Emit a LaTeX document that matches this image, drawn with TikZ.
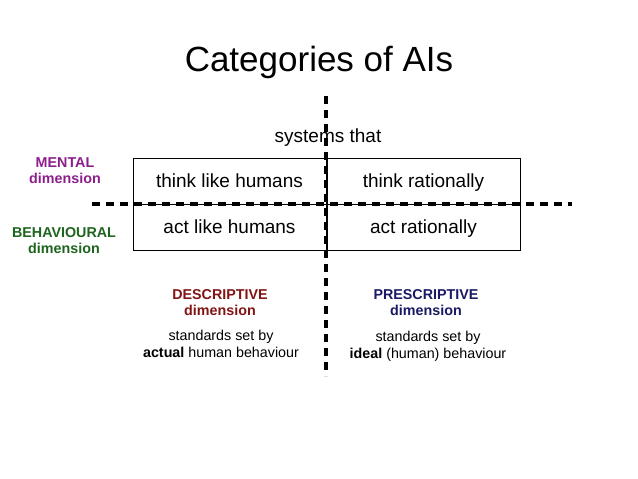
\documentclass[tikz,border=0pt]{standalone}
\usepackage{fontspec}
\setmainfont{Liberation Sans}
\usetikzlibrary{positioning}
\definecolor{mentalc}{RGB}{140,30,140}
\definecolor{behavc}{RGB}{30,100,30}
\definecolor{descc}{RGB}{130,20,20}
\definecolor{prescc}{RGB}{25,25,100}
\tikzset{
  cell/.style={minimum width=193pt, minimum height=46pt, draw=black, line width=0.8pt, font=\fontsize{19}{22}\selectfont, inner sep=0pt, text height=17pt, text depth=4pt},
  dimlabel/.style={font=\fontsize{14.3}{16}\selectfont\bfseries, align=center},
  stdlabel/.style={font=\fontsize{14.3}{17}\selectfont, align=center},
  axis/.style={line width=3.5pt, dash pattern=on 8pt off 6pt}
}
\begin{document}
\begin{tikzpicture}[x=1pt, y=-1pt]
\useasboundingbox (0,0) rectangle (638,479);
\node (title) at (319,62) {\fontsize{35}{40}\selectfont Categories of AIs};
\node (systems) at (328,138) {\fontsize{19}{22}\selectfont systems that};
% the four cells
\node[cell] (thinkhum) at (229.5,181) {think like humans};
\node[cell] (thinkrat) at (423.5,181) {think rationally};
\node[cell] (acthum) at (229.5,227) {act like humans};
\node[cell] (actrat) at (423.5,227) {act rationally};
% axes
\coordinate (vtop) at (326,96);
\coordinate (vbot) at (326,376);
\coordinate (hleft) at (92,204);
\coordinate (hright) at (572,204);
\draw[axis] (vtop) -- (vbot);
\draw[axis] (hleft) -- (hright);
% dimension labels
\node[dimlabel, text=mentalc] (mental) at (65,170.5) {MENTAL\\dimension};
\node[dimlabel, text=behavc] (behav) at (64,240.5) {BEHAVIOURAL\\dimension};
\node[dimlabel, text=descc] (desc) at (220,303) {DESCRIPTIVE\\dimension};
\node[dimlabel, text=prescc] (presc) at (426,303) {PRESCRIPTIVE\\dimension};
\node[stdlabel] (actual) at (221,344) {standards set by\\\textbf{actual} human behaviour};
\node[stdlabel] (ideal) at (428,346) {standards set by\\\textbf{ideal} (human) behaviour};
\end{tikzpicture}
\end{document}
